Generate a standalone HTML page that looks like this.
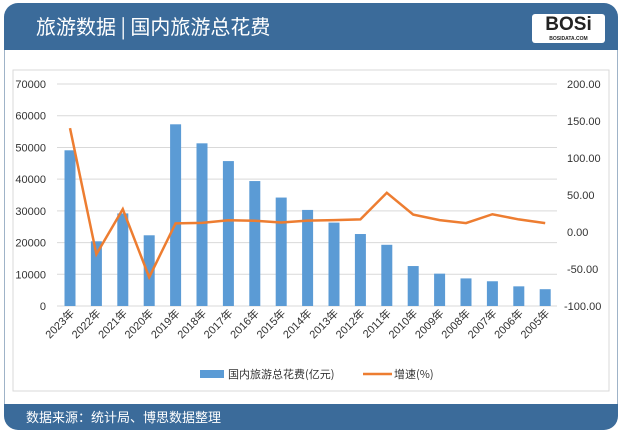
<!DOCTYPE html><html><head><meta charset="utf-8"><style>
body{margin:0;width:622px;height:434px;background:#fff;font-family:"Liberation Sans","Noto Sans CJK SC",sans-serif;overflow:hidden;position:relative}
.hdr{position:absolute;left:4px;top:3px;width:614px;height:47px;background:#3b6b9a;border-radius:14px 14px 0 0}
.ftr{position:absolute;left:4px;top:404px;width:614px;height:26px;background:#3b6b9a;border-radius:0 0 14px 14px}
.frame{position:absolute;left:4px;top:50px;width:612px;height:354px;border-left:1px solid #9fb3c8;border-right:1px solid #9fb3c8}
</style></head><body>
<div class="hdr"></div><div class="frame"></div><div class="ftr"></div>
<div style="position:absolute;left:36px;top:11px;color:#fff;font-size:20px;font-family:'Noto Sans CJK SC',sans-serif">旅游数据 | 国内旅游总花费</div>
<div style="position:absolute;left:532px;top:14px;width:73px;height:29px;background:#fff;border-radius:3px;text-align:center;font:bold 19px 'Liberation Sans',sans-serif;color:#222;line-height:22px">BOSi<div style="font-size:5px;line-height:6px">BOSIDATA.COM</div></div>
<div style="position:absolute;left:26px;top:407px;color:#fff;font-size:13px">数据来源：统计局、博思数据整理</div>
<svg width="622" height="434" style="position:absolute;left:0;top:0" font-family="Liberation Sans, sans-serif" font-size="11">
<rect x="13" y="70" width="596" height="321" fill="none" stroke="#d9d9d9"/>
<g stroke="#d9d9d9" id="grid"></g>
<g text-anchor="end" fill="#333" id="la"></g>
<g fill="#333" id="ra"></g>
<g fill="#5b9bd5" id="bars"></g>
<polyline id="ln" fill="none" stroke="#ed7d31" stroke-width="2.5"/>
<g id="lbl" fill="#333" font-size="11"></g>
<rect x="200" y="370" width="24" height="8" fill="#5b9bd5"/>
<text x="228" y="378" fill="#333" font-family="Noto Sans CJK SC, sans-serif">国内旅游总花费(亿元)</text>
<line x1="363" x2="392" y1="374" y2="374" stroke="#ed7d31" stroke-width="2.5"/>
<text x="394" y="378" fill="#333" font-family="Noto Sans CJK SC, sans-serif">增速(%)</text>
</svg>
<script>
var ns="http://www.w3.org/2000/svg";
function el(p,t,a,txt){var e=document.createElementNS(ns,t);for(var k in a)e.setAttribute(k,a[k]);if(txt!=null)e.textContent=txt;document.getElementById(p).appendChild(e);}
for(var j=0;j<=7;j++){var y=306-j*31.71;el('grid','line',{x1:57,x2:557,y1:y,y2:y});el('la','text',{x:46,y:y+4},j*10000);}
for(var j=0;j<=6;j++){var y=306-j*37;el('ra','text',{x:j==0?564:567,y:y+4},(j*50-100).toFixed(2));}
var yr=[2023,2022,2021,2020,2019,2018,2017,2016,2015,2014,2013,2012,2011,2010,2009,2008,2007,2006,2005];
var v=[49100,20400,29200,22300,57300,51300,45700,39400,34200,30300,26300,22700,19300,12600,10200,8700,7800,6200,5300];
var g=[140.3,-30,30.9,-61.1,11.7,12.3,15.9,15.2,12.8,15.3,16,17,53,23.5,16,12,24,17,12];
var pts=[];
for(var i=0;i<19;i++){var cx=70+i*26.4,h=v[i]*0.003171;
el('bars','rect',{x:cx-5.5,width:11,y:306-h,height:h});
pts.push(cx+','+(306-(g[i]+100)*0.74));
el('lbl','text',{transform:'translate('+(cx+5)+',314) rotate(-45)','text-anchor':'end','font-family':'Liberation Sans, Noto Sans CJK SC, sans-serif'},yr[i]+'年');}
document.getElementById('ln').setAttribute('points',pts.join(' '));
</script>
</body></html>
